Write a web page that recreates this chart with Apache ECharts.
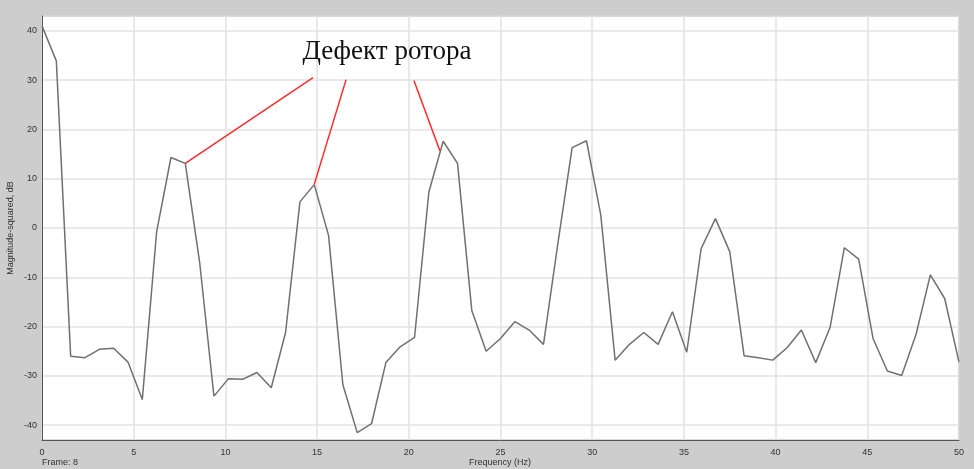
<!DOCTYPE html>
<html>
<head>
<meta charset="utf-8">
<script src="https://cdn.jsdelivr.net/npm/echarts@6/dist/echarts.min.js"></script>
<style>
html,body{margin:0;padding:0;background:#cdcdcd;}
#chart{width:974px;height:469px;}
</style>
</head>
<body>
<div id="chart"></div>
<script>
const freqs = [0, 0.781, 1.563, 2.344, 3.125, 3.906, 4.688, 5.469, 6.25, 7.031, 7.813, 8.594, 9.375, 10.156, 10.938, 11.719, 12.5, 13.281, 14.063, 14.844, 15.625, 16.406, 17.188, 17.969, 18.75, 19.531, 20.313, 21.094, 21.875, 22.656, 23.438, 24.219, 25, 25.781, 26.563, 27.344, 28.125, 28.906, 29.688, 30.469, 31.25, 32.031, 32.813, 33.594, 34.375, 35.156, 35.938, 36.719, 37.5, 38.281, 39.063, 39.844, 40.625, 41.406, 42.188, 42.969, 43.75, 44.531, 45.313, 46.094, 46.875, 47.656, 48.438, 49.219, 50];
const mags = [41.0, 33.9, -26.0, -26.3, -24.6, -24.4, -27.2, -34.8, -0.8, 14.3, 13.1, -6.9, -34.1, -30.6, -30.7, -29.3, -32.4, -21.2, 5.3, 8.8, -1.5, -31.8, -41.5, -39.7, -27.3, -24.1, -22.2, 7.3, 17.6, 13.1, -16.8, -25.0, -22.4, -19.0, -20.7, -23.6, -3.2, 16.3, 17.7, 2.6, -26.8, -23.6, -21.2, -23.6, -17.0, -25.2, -4.2, 1.9, -4.8, -25.9, -26.3, -26.8, -24.3, -20.7, -27.3, -20.2, -4.0, -6.3, -22.4, -29.0, -29.9, -21.6, -9.5, -14.3, -27.2];
const annotText = 'Дефект ротора';
const annotStart = [[14.78, 30.5], [16.58, 30.1], [20.28, 29.9]];
const annotEnd = [[7.81, 13.1], [14.84, 8.8], [21.7, 15.6]];
const xTitle = 'Frequency (Hz)';
const yTitle = 'Magnitude-squared, dB';
const frameText = 'Frame: 8';

const chart = echarts.init(document.getElementById('chart'), null, {renderer: 'canvas'});
const lineData = freqs.map((f, i) => [f, mags[i]]);
const markData = annotStart.map((s, i) => [{coord: s}, {coord: annotEnd[i]}]);

chart.setOption({
  animation: false,
  backgroundColor: '#cdcdcd',
  title: {
    text: annotText,
    left: 382, top: 33, textAlign: 'center',
    textStyle: {fontFamily: 'Liberation Serif', fontSize: 27, fontWeight: 'normal', color: '#111'}
  },
  graphic: [{
    type: 'text', left: 42, top: 458,
    style: {text: frameText, fontSize: 9, fontFamily: 'Liberation Sans', fill: '#333'}
  }, {
    type: 'text', x: 500, y: 463,
    style: {text: xTitle, fontSize: 9, fontFamily: 'Liberation Sans', fill: '#333', align: 'center', verticalAlign: 'middle'}
  }],
  grid: {
    left: 42, right: 15, top: 16, bottom: 29,
    outerBoundsMode: 'none', containLabel: false,
    show: true, backgroundColor: '#ffffff', borderColor: '#7c7c7c', borderWidth: 1
  },
  xAxis: {
    type: 'value', min: 0, max: 50, interval: 5,
    axisLine: {onZero: false, lineStyle: {color: '#555', width: 1}},
    axisTick: {show: false},
    axisLabel: {fontSize: 9, fontFamily: 'Liberation Sans', color: '#333', margin: 8},
    splitLine: {show: true, lineStyle: {color: '#e2e2e2', width: 1.5}}
  },
  yAxis: {
    type: 'value', min: -43, max: 43, splitNumber: 8,
    name: yTitle, nameLocation: 'middle', nameGap: 27, nameMoveOverlap: false,
    nameTextStyle: {fontSize: 9, fontFamily: 'Liberation Sans', color: '#333'},
    axisLine: {show: true, onZero: false, lineStyle: {color: '#555', width: 1}},
    axisTick: {show: false},
    axisLabel: {fontSize: 9, fontFamily: 'Liberation Sans', color: '#333', margin: 5, showMinLabel: false, showMaxLabel: false},
    splitLine: {show: true, lineStyle: {color: '#e2e2e2', width: 1.5}}
  },
  series: [{
    type: 'line', data: lineData, symbol: 'none',
    lineStyle: {color: '#707070', width: 1.5},
    markLine: {
      silent: true, symbol: ['none', 'none'],
      label: {show: false},
      lineStyle: {color: '#ff2a2a', width: 1.5, type: 'solid'},
      data: markData
    }
  }]
});
</script>
</body>
</html>
